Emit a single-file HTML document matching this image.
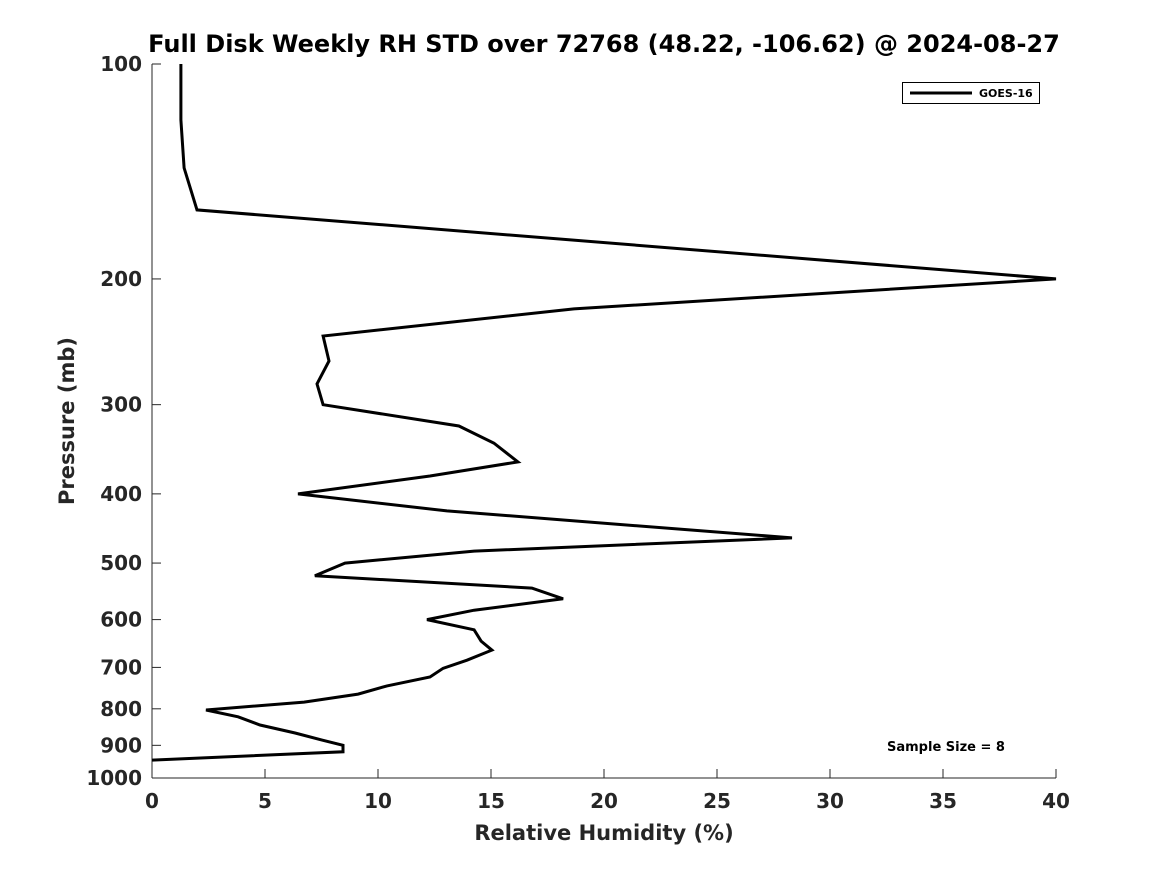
<!DOCTYPE html>
<html><head><meta charset="utf-8"><style>
body{margin:0;background:#fff}
svg text{font-family:"DejaVu Sans","Liberation Sans",sans-serif;font-weight:bold;fill:#262626}
</style></head><body>
<svg width="1167" height="875">
<rect width="1167" height="875" fill="#fff"/>
<text x="604" y="52" font-size="24" text-anchor="middle" fill="#000" style="fill:#000">Full Disk Weekly RH STD over 72768 (48.22, -106.62) @ 2024-08-27</text>
<g id="axes"></g>
<g id="series"></g>
<text x="604" y="840" font-size="21" text-anchor="middle">Relative Humidity (%)</text>
<text transform="translate(74,421) rotate(-90)" font-size="21" text-anchor="middle">Pressure (mb)</text>
<g>
<rect x="902.5" y="82.5" width="137" height="21" fill="#fff" stroke="#000" stroke-width="1"/>
<line x1="910" y1="93" x2="972" y2="93" stroke="#000" stroke-width="3"/>
<text x="979" y="97" font-size="11" style="fill:#000">GOES-16</text>
</g>
<text x="946" y="751" font-size="13" text-anchor="middle" style="fill:#000">Sample Size = 8</text>
</svg>
<script>
const rhValues=[1.28,1.28,1.42,1.99,40,18.67,7.57,7.83,7.30,7.57,13.58,15.13,16.19,12.30,6.46,13.05,28.32,14.25,8.54,7.21,16.81,18.19,14.25,12.17,14.25,14.56,15.04,13.94,12.88,12.30,10.40,9.12,6.73,2.39,3.81,4.78,6.33,7.52,8.45,8.45,0];
const pressures=[100,119.8,139.8,160.1,200,220.3,240.4,260.6,280.6,300,321.4,339.6,360.8,377.6,400,422.6,461,481,500,521,542,561,582,600,620,643,662,684,702,722,743,763,783,803,821,843,865,885,900,919,944];
const xTicks=[0,5,10,15,20,25,30,35,40];
const yTicks=[100,200,300,400,500,600,700,800,900,1000];
const NS="http://www.w3.org/2000/svg";
const X0=152,X1=1056,Y0=64,Y1=778;
const xs=v=>X0+(v-0)/40*(X1-X0);
const ys=p=>Y0+(Math.log10(p)-2)*(Y1-Y0);
function mk(t,a){const e=document.createElementNS(NS,t);for(const k in a)e.setAttribute(k,a[k]);return e;}
const ax=document.getElementById('axes');
const xl=mk('line',{x1:X0,y1:Y1,x2:X1,y2:Y1,stroke:'#262626','stroke-width':1});


ax.appendChild(xl);
const yl=mk('line',{x1:X0,y1:Y0,x2:X0,y2:Y1,stroke:'#262626','stroke-width':1});


ax.appendChild(yl);
xTicks.forEach(v=>{
 const x=xs(v);
 ax.appendChild(mk('line',{x1:x,y1:Y1,x2:x,y2:Y1-9,stroke:'#262626'}));
 const t=mk('text',{x:x,y:808,'font-size':20,'text-anchor':'middle'});
 t.textContent=v;
 
 
 ax.appendChild(t);
});
yTicks.forEach(p=>{
 const y=ys(p);
 ax.appendChild(mk('line',{x1:X0,y1:y,x2:X0+9,y2:y,stroke:'#262626'}));
 const t=mk('text',{x:142,y:y+7,'font-size':20,'text-anchor':'end'});
 t.textContent=p;
 
 
 ax.appendChild(t);
});
const pts=rhValues.map((v,i)=>xs(v).toFixed(1)+','+ys(pressures[i]).toFixed(1)).join(' ');
const pl=mk('polyline',{points:pts,fill:'none',stroke:'#000','stroke-width':3,'stroke-linejoin':'miter'});


document.getElementById('series').appendChild(pl);
</script>
</body></html>
